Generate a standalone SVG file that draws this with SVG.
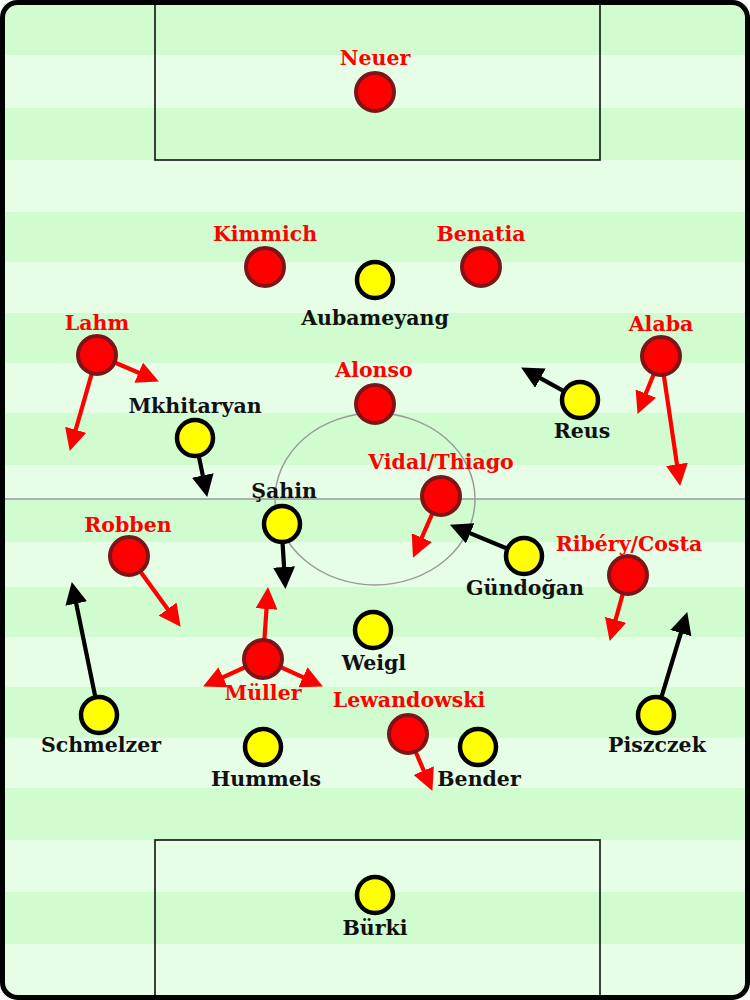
<svg xmlns="http://www.w3.org/2000/svg" width="750" height="1000" viewBox="0 0 750 1000">
<defs>
<style>
.dk{fill:#d0fcd0}
.lt{fill:#e6fde6}
.box{fill:none;stroke:#111;stroke-width:1.6}
.mid{fill:none;stroke:#999;stroke-width:1.4}
.red circle{fill:#ff0000;stroke:#7d1418;stroke-width:4}
.yel circle{fill:#ffff00;stroke:#000;stroke-width:4.5}
text{font-family:"DejaVu Serif","Liberation Serif",serif;font-weight:bold;font-size:20.5px;text-anchor:middle}
.red text{fill:#ff0000}
.yel text{fill:#111}
.ra{stroke:#ff0000;stroke-width:4.2;fill:none;marker-end:url(#hr)}
.ba{stroke:#000;stroke-width:4.2;fill:none;marker-end:url(#hb)}
</style>
<marker id="hr" markerUnits="userSpaceOnUse" markerWidth="22" markerHeight="22" refX="7" refY="11" orient="auto" viewBox="0 0 22 22"><path d="M0,0 L22,11 L0,22 Z" fill="#ff0000"/></marker>
<marker id="hb" markerUnits="userSpaceOnUse" markerWidth="22" markerHeight="22" refX="7" refY="11" orient="auto" viewBox="0 0 22 22"><path d="M0,0 L22,11 L0,22 Z" fill="#000"/></marker>
</defs>
<g id="pitch">
<rect x="0" y="0" width="750" height="1000" fill="#fff"/>
<rect class="dk" x="3" y="3" width="744" height="52"/>
<rect class="lt" x="3" y="55" width="744" height="53"/>
<rect class="dk" x="3" y="108" width="744" height="52"/>
<rect class="lt" x="3" y="160" width="744" height="52"/>
<rect class="dk" x="3" y="212" width="744" height="50"/>
<rect class="lt" x="3" y="262" width="744" height="51"/>
<rect class="dk" x="3" y="313" width="744" height="50"/>
<rect class="lt" x="3" y="363" width="744" height="50"/>
<rect class="dk" x="3" y="413" width="744" height="52"/>
<rect class="lt" x="3" y="465" width="744" height="34"/>
<rect class="dk" x="3" y="499" width="744" height="43"/>
<rect class="lt" x="3" y="542" width="744" height="45"/>
<rect class="dk" x="3" y="587" width="744" height="50"/>
<rect class="lt" x="3" y="637" width="744" height="50"/>
<rect class="dk" x="3" y="687" width="744" height="51"/>
<rect class="lt" x="3" y="738" width="744" height="50"/>
<rect class="dk" x="3" y="788" width="744" height="52"/>
<rect class="lt" x="3" y="840" width="744" height="52"/>
<rect class="dk" x="3" y="892" width="744" height="52"/>
<rect class="lt" x="3" y="944" width="744" height="53"/>
<rect x="155" y="2" width="445" height="158" class="box"/>
<rect x="155" y="840" width="445" height="158" class="box"/>
<line x1="3" y1="499" x2="747" y2="499" class="mid"/>
<ellipse cx="375" cy="499" rx="100" ry="86" class="mid"/>
<rect x="2.5" y="2.5" width="745" height="995" rx="15" ry="15" fill="none" stroke="#000" stroke-width="5"/>
</g>
<g id="connectors">
<line class="ra" x1="113.6" y1="362" x2="145.1" y2="375.5"/>
<line class="ra" x1="92.1" y1="372.3" x2="73.8" y2="436.5"/>
<line class="ra" x1="654.3" y1="372.7" x2="643.2" y2="400"/>
<line class="ra" x1="663.6" y1="373.8" x2="678" y2="471.2"/>
<line class="ra" x1="433" y1="512" x2="419" y2="544"/>
<line class="ra" x1="139.6" y1="570.5" x2="171.8" y2="614.7"/>
<line class="ra" x1="623.2" y1="592.4" x2="613.7" y2="626.5"/>
<line class="ra" x1="264.3" y1="641" x2="267" y2="602"/>
<line class="ra" x1="246.6" y1="666.5" x2="216.7" y2="680.2"/>
<line class="ra" x1="279.4" y1="666.5" x2="309.3" y2="680.2"/>
<line class="ra" x1="415.1" y1="750.5" x2="426.5" y2="777.1"/>
<line class="ba" x1="562.5" y1="390.3" x2="534.3" y2="374.8"/>
<line class="ba" x1="198.7" y1="455.6" x2="204.2" y2="482.3"/>
<line class="ba" x1="282.5" y1="542" x2="284.5" y2="574"/>
<line class="ba" x1="507.5" y1="548.8" x2="463.8" y2="530.6"/>
<line class="ba" x1="95.4" y1="697.4" x2="74.8" y2="596.7"/>
<line class="ba" x1="661.2" y1="697.8" x2="682.9" y2="626.4"/>
</g>
<g id="neuer" class="red"><circle cx="375" cy="92" r="19"/><text x="375" y="65">Neuer</text></g>
<g id="kimmich" class="red"><circle cx="265" cy="267" r="19"/><text x="265" y="241">Kimmich</text></g>
<g id="benatia" class="red"><circle cx="481" cy="267" r="19"/><text x="481" y="241">Benatia</text></g>
<g id="lahm" class="red"><circle cx="97" cy="355" r="19"/><text x="97" y="330">Lahm</text></g>
<g id="alaba" class="red"><circle cx="661" cy="356" r="19"/><text x="661" y="331">Alaba</text></g>
<g id="alonso" class="red"><circle cx="375" cy="404" r="19"/><text x="374" y="377">Alonso</text></g>
<g id="vidal" class="red"><circle cx="441" cy="496" r="19"/><text x="441" y="469">Vidal/Thiago</text></g>
<g id="robben" class="red"><circle cx="129" cy="556" r="19"/><text x="128" y="532">Robben</text></g>
<g id="ribery" class="red"><circle cx="628" cy="575" r="19"/><text x="629" y="551">Ribéry/Costa</text></g>
<g id="muller" class="red"><circle cx="263" cy="659" r="19"/><text x="263" y="700">Müller</text></g>
<g id="lewandowski" class="red"><circle cx="408" cy="734" r="19"/><text x="409" y="707">Lewandowski</text></g>
<g id="aubameyang" class="yel"><circle cx="375" cy="280" r="18"/><text x="375" y="325">Aubameyang</text></g>
<g id="mkhitaryan" class="yel"><circle cx="195" cy="438" r="18"/><text x="195" y="413">Mkhitaryan</text></g>
<g id="reus" class="yel"><circle cx="580" cy="400" r="18"/><text x="582" y="438">Reus</text></g>
<g id="sahin" class="yel"><circle cx="282" cy="524" r="18"/><text x="284" y="498">Şahin</text></g>
<g id="gundogan" class="yel"><circle cx="524" cy="556" r="18"/><text x="525" y="595">Gündoğan</text></g>
<g id="weigl" class="yel"><circle cx="373" cy="630" r="18"/><text x="374" y="670">Weigl</text></g>
<g id="schmelzer" class="yel"><circle cx="99" cy="715" r="18"/><text x="101" y="752">Schmelzer</text></g>
<g id="hummels" class="yel"><circle cx="263" cy="747" r="18"/><text x="266" y="786">Hummels</text></g>
<g id="bender" class="yel"><circle cx="478" cy="747" r="18"/><text x="479" y="786">Bender</text></g>
<g id="piszczek" class="yel"><circle cx="656" cy="715" r="18"/><text x="657" y="752">Piszczek</text></g>
<g id="burki" class="yel"><circle cx="375" cy="895" r="18"/><text x="375" y="935">Bürki</text></g>
</svg>
